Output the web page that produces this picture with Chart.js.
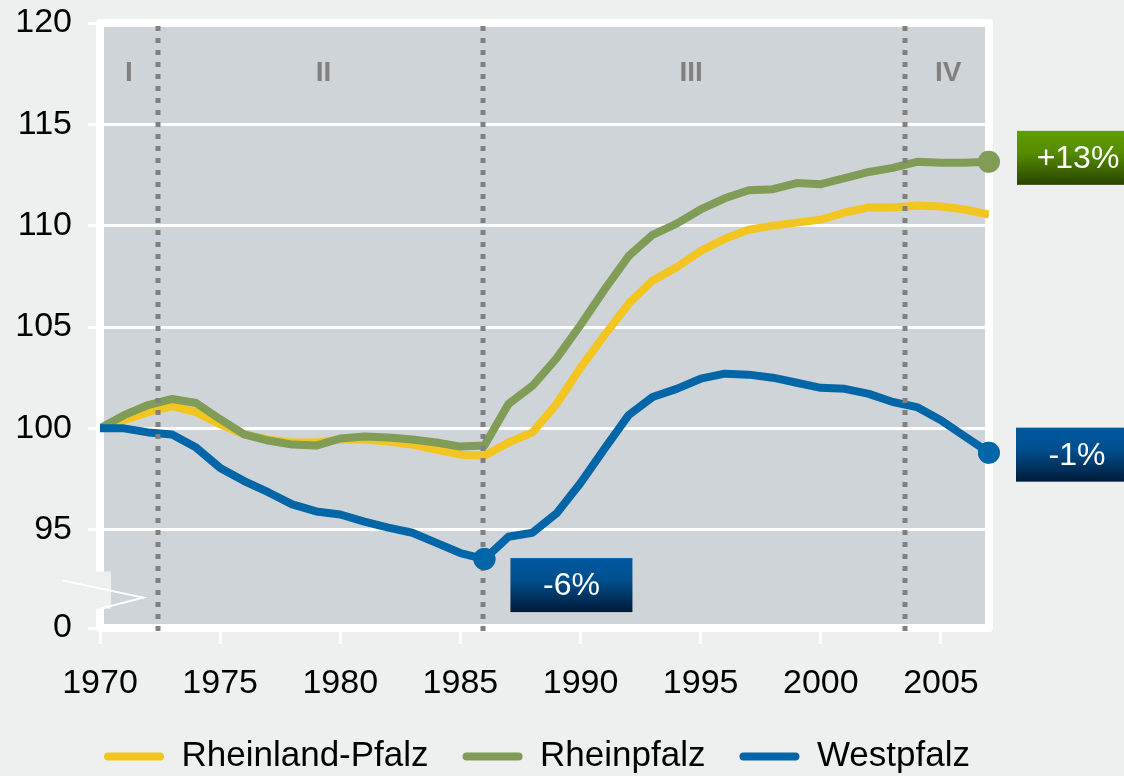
<!DOCTYPE html>
<html>
<head>
<meta charset="utf-8">
<script src="https://cdn.jsdelivr.net/npm/chart.js@4"></script>
<style>
  html, body { margin: 0; padding: 0; background: #eef0ef; }
  #chart { display: block; }
</style>
</head>
<body>
<canvas id="chart" width="1124" height="776"></canvas>
<script>
// ---- data (index 1970 = 100) ----
const years = [1970,1971,1972,1973,1974,1975,1976,1977,1978,1979,
               1980,1981,1982,1983,1984,1985,1986,1987,1988,1989,
               1990,1991,1992,1993,1994,1995,1996,1997,1998,1999,
               2000,2001,2002,2003,2004,2005,2006,2007];

const rheinlandPfalz = [100.0,100.4,100.8,101.1,100.8,100.2,99.7,99.45,99.3,99.3,
                        99.45,99.45,99.35,99.2,98.95,98.7,98.65,99.3,99.8,101.2,
                        103.0,104.6,106.15,107.3,107.95,108.75,109.35,109.8,110.0,110.15,
                        110.3,110.65,110.9,110.9,111.0,110.95,110.8,110.55];

const rheinpfalz = [100.0,100.65,101.15,101.45,101.25,100.45,99.7,99.4,99.2,99.15,
                    99.5,99.6,99.55,99.45,99.3,99.1,99.15,101.2,102.1,103.45,
                    105.1,106.85,108.5,109.55,110.1,110.8,111.35,111.75,111.8,112.1,
                    112.05,112.35,112.65,112.85,113.15,113.1,113.1,113.15];

const westpfalz = [100.0,100.0,99.8,99.7,99.05,98.05,97.4,96.85,96.25,95.9,
                   95.75,95.4,95.1,94.85,94.35,93.85,93.55,94.65,94.85,95.8,
                   97.3,99.0,100.65,101.55,101.95,102.45,102.7,102.65,102.5,102.25,
                   102.0,101.95,101.7,101.3,101.05,100.4,99.6,98.8];

const seriesNames = ["Rheinland-Pfalz", "Rheinpfalz", "Westpfalz"];
const seriesColours = ["#f2c521", "#809c56", "#0066a8"];

const xTickYears = [1970, 1975, 1980, 1985, 1990, 1995, 2000, 2005];
// y axis is broken: bottom value stands for 0
const yBreakValue = 90.15;
const yTickValues = [yBreakValue, 95, 100, 105, 110, 115, 120];

// phases I-IV
const phaseBounds = [1972.4, 1985.95, 2003.5];
const phaseNames = ["I", "II", "III", "IV"];
const phaseLabelYears = [1971.2, 1979.3, 1994.6, 2005.3];

// highlighted points with their callout boxes
const calloutSeries = [1, 2, 2];
const calloutYears = [2007, 2007, 1986];
const calloutTexts = ["+13%", "-1%", "-6%"];

// ---- styling ----
const FONT = "'Liberation Sans', Arial, sans-serif";
const calloutOffsets = [[28, -31], [27, -25], [26, -1]]; // box left/top relative to point
const calloutGradients = [
  ["#609e00", "#558c00", "#2a4400"],
  ["#0059a0", "#004f8f", "#001b38"],
  ["#0059a0", "#004f8f", "#001b38"]
];
const legendShift = 70;

function isHighlighted(seriesIdx, year) {
  for (let i = 0; i < calloutSeries.length; i++)
    if (calloutSeries[i] == seriesIdx && calloutYears[i] == year) return true;
  return false;
}

function makeDataset(idx, values, order) {
  return {
    label: seriesNames[idx],
    data: years.map((y, i) => ({ x: y, y: values[i] })),
    borderColor: seriesColours[idx],
    backgroundColor: seriesColours[idx],
    borderWidth: 8,
    borderJoinStyle: "round",
    tension: 0,
    order: order,
    pointRadius: ctx => isHighlighted(idx, years[ctx.dataIndex]) ? 11 : 0,
    pointHoverRadius: ctx => isHighlighted(idx, years[ctx.dataIndex]) ? 11 : 0,
    pointBorderWidth: 0,
    pointBackgroundColor: seriesColours[idx]
  };
}

// background, plot fill and white frame
const framePlugin = {
  id: "frame",
  afterLayout(chart) {
    // legend starts under the plot, not at the canvas edge
    if (chart.legend) chart.legend.left += legendShift;
  },
  beforeDraw(chart) {
    const { ctx, chartArea: a } = chart;
    ctx.save();
    ctx.fillStyle = "#eef0ef";
    ctx.fillRect(0, 0, chart.width, chart.height);
    ctx.fillStyle = "#cfd4d8";
    ctx.fillRect(a.left, a.top, a.right - a.left, a.bottom - a.top);
    ctx.restore();
  },
  beforeDatasetsDraw(chart) {
    const { ctx, chartArea: a } = chart;
    ctx.save();
    ctx.strokeStyle = "#ffffff";
    ctx.lineWidth = 8;
    ctx.lineJoin = "round";
    ctx.strokeRect(a.left, a.top, a.right - a.left, a.bottom - a.top);
    ctx.restore();
  },
  afterDatasetsDraw(chart) {
    const { ctx, chartArea: a, scales } = chart;
    const xs = scales.x, ys = scales.y;
    ctx.save();
    // dotted phase separators
    ctx.strokeStyle = "#808080";
    ctx.lineWidth = 5;
    ctx.setLineDash([5, 7]);
    phaseBounds.forEach(b => {
      const px = Math.round(xs.getPixelForValue(b));
      ctx.beginPath();
      ctx.moveTo(px, a.top + 3);
      ctx.lineTo(px, a.bottom + 6);
      ctx.stroke();
    });
    ctx.setLineDash([]);
    // phase names
    ctx.fillStyle = "#808080";
    ctx.font = "bold 28px " + FONT;
    ctx.textAlign = "center";
    ctx.textBaseline = "middle";
    phaseNames.forEach((n, i) => {
      ctx.fillText(n, xs.getPixelForValue(phaseLabelYears[i]), a.top + 50);
    });
    // axis break
    const yTop = ys.getPixelForValue(92.94), yBot = ys.getPixelForValue(91.1);
    ctx.fillStyle = "#eef0ef";
    ctx.fillRect(a.left - 5, yTop, 16, yBot - yTop);
    ctx.strokeStyle = "#ffffff";
    ctx.lineWidth = 2;
    ctx.beginPath();
    ctx.moveTo(a.left - 38, ys.getPixelForValue(92.5));
    ctx.lineTo(a.left + 43, ys.getPixelForValue(91.65));
    ctx.lineTo(a.left, yBot);
    ctx.stroke();
    ctx.restore();
    // highlighted points back on top of the separators
    chart.data.datasets.forEach((ds, di) => {
      const meta = chart.getDatasetMeta(di);
      meta.data.forEach(pt => {
        if (pt.options && pt.options.radius > 0) pt.draw(ctx, a);
      });
    });
  },
  afterDraw(chart) {
    const { ctx } = chart;
    ctx.save();
    calloutTexts.forEach((t, i) => {
      const meta = chart.getDatasetMeta(calloutSeries[i]);
      const pt = meta.data[years.indexOf(calloutYears[i])];
      const left = pt.x + calloutOffsets[i][0];
      const top = pt.y + calloutOffsets[i][1];
      const w = 122, h = 54;
      const g = ctx.createLinearGradient(0, top, 0, top + h);
      g.addColorStop(0, calloutGradients[i][0]);
      g.addColorStop(0.4, calloutGradients[i][1]);
      g.addColorStop(1, calloutGradients[i][2]);
      ctx.fillStyle = g;
      ctx.fillRect(left, top, w, h);
      ctx.fillStyle = "#ffffff";
      ctx.font = "32px " + FONT;
      ctx.textAlign = "center";
      ctx.textBaseline = "middle";
      ctx.fillText(t, left + w / 2, top + h / 2 + 1);
    });
    ctx.restore();
  }
};

new Chart(document.getElementById("chart"), {
  type: "line",
  data: {
    datasets: [
      makeDataset(0, rheinlandPfalz, 3),
      makeDataset(1, rheinpfalz, 2),
      makeDataset(2, westpfalz, 1)
    ]
  },
  options: {
    responsive: false,
    animation: false,
    events: [],
    layout: { padding: { top: 23, right: 0, bottom: 0, left: 0 } },
    scales: {
      x: {
        type: "linear",
        min: 1970,
        max: 2007,
        border: { display: false },
        afterBuildTicks: s => { s.ticks = xTickYears.map(v => ({ value: v })); },
        grid: { drawOnChartArea: false, drawTicks: true, tickLength: 16, tickColor: "#ffffff", tickWidth: 3 },
        ticks: {
          padding: 19,
          color: "#000000",
          font: { family: FONT, size: 34 },
          callback: v => String(v),
          maxRotation: 0
        },
        afterFit: s => { s.height = 77; s.paddingLeft = 0; s.paddingRight = 0; }
      },
      y: {
        min: yBreakValue,
        max: 120,
        border: { display: false },
        afterBuildTicks: s => { s.ticks = yTickValues.map(v => ({ value: v })); },
        grid: { color: "#ffffff", lineWidth: 3, tickLength: 12, tickColor: "#ffffff", tickWidth: 3 },
        ticks: {
          padding: 16,
          color: "#000000",
          font: { family: FONT, size: 34 },
          callback: v => (v < 91 ? "0" : String(v))
        },
        afterFit: s => { s.width = 100; s.paddingTop = 0; s.paddingBottom = 0; }
      },
      // empty axis that only reserves room on the right for the callouts
      yRight: {
        position: "right",
        display: true,
        border: { display: false },
        grid: { display: false },
        ticks: { display: false },
        afterFit: s => { s.width = 135; s.paddingTop = 0; s.paddingBottom = 0; }
      }
    },
    plugins: {
      tooltip: { enabled: false },
      legend: {
        position: "bottom",
        align: "start",
        maxHeight: 71,
        labels: {
          boxWidth: 60,
          boxHeight: 8,
          padding: 34,
          color: "#000000",
          font: { family: FONT, size: 35 },
          sort: (a, b) => a.datasetIndex - b.datasetIndex,
          generateLabels: chart =>
            Chart.defaults.plugins.legend.labels.generateLabels(chart)
              .map(l => Object.assign(l, { lineWidth: 0, borderRadius: 4 }))
        }
      }
    }
  },
  plugins: [framePlugin]
});
</script>
</body>
</html>
